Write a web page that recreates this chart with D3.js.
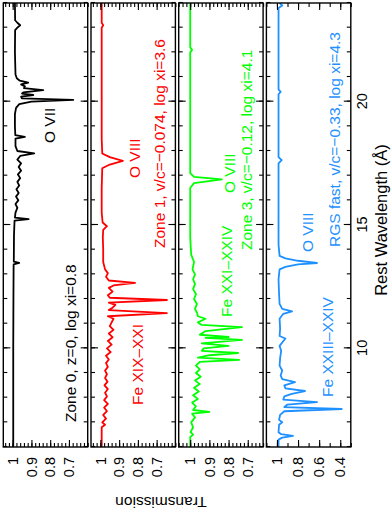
<!DOCTYPE html>
<html>
<head>
<meta charset="utf-8">
<script src="https://cdn.jsdelivr.net/npm/d3@7"></script>
<style>
  body { margin: 0; background: #fff; }
  svg { display: block; }
  text { font-family: "Liberation Sans", Arial, Helvetica, sans-serif; }
</style>
</head>
<body>
<svg id="chart"></svg>
<script>
// wavelength axis (Angstrom)
const waveDomain = [6, 24];
const waveMajor = [10, 15, 20];
const waveMinor = d3.range(6, 25, 1);

// transmission spectra, [wavelength, transmission]
const zone0Spec = [[6.0,0.997],[8.0,0.997],[10.0,0.997],[12.0,0.996],[13.4,0.995],[13.46,0.965],[13.52,0.994],[14.6,0.993],[15.18,0.99],[15.24,0.915],[15.3,0.988],[15.5,0.985],[15.7,0.975],[15.85,0.985],[16.0,0.97],[16.15,0.982],[16.3,0.968],[16.45,0.98],[16.6,0.965],[16.75,0.975],[16.9,0.96],[17.05,0.972],[17.2,0.955],[17.35,0.968],[17.5,0.955],[17.65,0.975],[17.8,0.96],[17.9,0.885],[18.0,0.975],[18.2,0.985],[18.5,0.985],[18.57,0.935],[18.64,0.986],[19.0,0.988],[19.5,0.988],[19.75,0.982],[19.9,0.965],[20.0,0.9],[20.07,0.677],[20.13,0.95],[20.2,0.955],[20.27,0.89],[20.33,0.95],[20.38,0.943],[20.47,0.837],[20.55,0.94],[20.62,0.935],[20.7,0.955],[20.77,0.917],[20.85,0.962],[20.95,0.978],[21.1,0.985],[22.0,0.988],[22.9,0.987],[23.0,0.975],[23.1,0.96],[23.2,0.975],[23.3,0.987],[24.0,0.988]];
const zone1Spec = [[6.0,0.993],[6.8,0.993],[6.9,0.975],[7.0,0.99],[7.15,0.97],[7.3,0.985],[7.45,0.965],[7.6,0.98],[7.75,0.96],[7.9,0.98],[8.05,0.965],[8.2,0.975],[8.35,0.96],[8.5,0.978],[8.65,0.962],[8.8,0.975],[8.95,0.965],[9.1,0.975],[9.25,0.96],[9.4,0.97],[9.55,0.955],[9.7,0.97],[9.85,0.945],[10.0,0.965],[10.15,0.94],[10.3,0.96],[10.45,0.935],[10.6,0.955],[10.75,0.93],[10.9,0.95],[11.05,0.94],[11.2,0.93],[11.3,0.96],[11.43,0.645],[11.55,0.955],[11.65,0.935],[11.76,0.92],[11.85,0.955],[11.96,0.645],[12.05,0.95],[12.15,0.96],[12.3,0.935],[12.45,0.955],[12.55,0.93],[12.65,0.815],[12.75,0.955],[12.9,0.97],[13.05,0.96],[13.2,0.975],[13.5,0.985],[14.0,0.985],[14.5,0.987],[14.8,0.985],[14.95,0.965],[15.1,0.988],[15.5,0.993],[16.5,0.993],[17.3,0.99],[17.45,0.95],[17.6,0.88],[17.75,0.95],[17.9,0.99],[18.5,0.993],[23.0,0.993],[23.1,0.985],[23.2,0.993],[24.0,0.993]];
const zone3Spec = [[6.0,1.0],[6.4,1.0],[6.5,0.985],[6.6,0.998],[6.8,0.985],[7.0,0.995],[7.2,0.975],[7.35,0.99],[7.42,0.9],[7.5,0.985],[7.65,0.97],[7.8,0.99],[7.95,0.96],[8.1,0.985],[8.25,0.955],[8.4,0.98],[8.55,0.95],[8.7,0.975],[8.85,0.945],[9.0,0.97],[9.15,0.95],[9.3,0.97],[9.45,0.95],[9.53,0.745],[9.62,0.96],[9.72,0.9],[9.81,0.75],[9.9,0.94],[10.0,0.93],[10.1,0.8],[10.2,0.94],[10.34,0.73],[10.42,0.92],[10.46,0.8],[10.55,0.95],[10.7,0.92],[10.86,0.73],[10.95,0.94],[11.05,0.96],[11.2,0.92],[11.3,0.96],[11.45,0.965],[11.6,0.975],[11.8,0.965],[12.0,0.98],[12.2,0.97],[12.4,0.985],[12.6,0.975],[12.8,0.985],[13.0,0.975],[13.2,0.988],[13.5,0.98],[13.8,0.995],[14.5,1.0],[16.5,1.0],[16.7,0.98],[16.85,0.835],[16.95,0.98],[17.1,1.0],[22.0,1.0],[22.1,0.99],[22.2,1.0],[24.0,1.0]];
const rgsSpec = [[6.0,0.985],[6.3,0.985],[6.38,0.95],[6.45,0.848],[6.52,0.96],[6.6,0.985],[6.9,0.98],[7.0,0.95],[7.1,0.98],[7.3,0.97],[7.45,0.93],[7.54,0.386],[7.62,0.93],[7.72,0.9],[7.82,0.62],[7.92,0.94],[8.05,0.93],[8.15,0.86],[8.27,0.734],[8.38,0.92],[8.5,0.93],[8.63,0.829],[8.75,0.95],[8.9,0.965],[9.1,0.95],[9.3,0.975],[9.6,0.97],[9.9,0.96],[10.1,0.975],[10.4,0.92],[10.5,0.975],[10.8,0.97],[11.2,0.975],[11.4,0.94],[11.5,0.857],[11.6,0.95],[11.8,0.975],[12.2,0.98],[12.8,0.985],[13.2,0.975],[13.3,0.92],[13.4,0.8],[13.46,0.62],[13.55,0.8],[13.65,0.92],[13.75,0.975],[14.2,0.985],[17.5,0.985],[17.63,0.955],[17.75,0.985],[20.3,0.985],[20.4,0.965],[20.5,0.985],[23.8,0.985],[23.9,0.95],[24.0,0.975]];

// transmission ticks
const transMajor = [1, 0.9, 0.8, 0.7];
const transMinor = d3.range(0.6, 1.06, 0.02);
const rgsMajor = [1, 0.8, 0.6, 0.4];
const rgsMinor = d3.range(0.3, 1.11, 0.1);

const panels = [
  {spec: zone0Spec, color: "#000000", domain: [0.6, 1.05], major: transMajor, minor: transMinor,
   notes: [{t: "Zone 0, z=0, log xi=0.8", x: 102, y: 76}, {t: "O VII", x: 381, y: 55}]},
  {spec: zone1Spec, color: "#ff0000", domain: [0.6, 1.05], major: transMajor, minor: transMinor,
   notes: [{t: "Zone 1, v/c=\u22120.074, log xi=3.6", x: 276, y: 165}, {t: "O VIII", x: 346, y: 140}, {t: "Fe XIX\u2013XXI", x: 119, y: 143}]},
  {spec: zone3Spec, color: "#00ff00", domain: [0.62, 1.06], major: transMajor, minor: transMinor,
   notes: [{t: "Zone 3, v/c=\u22120.12, log xi=4.1", x: 274, y: 252}, {t: "O VIII", x: 331, y: 235}, {t: "Fe XXI\u2013XXIV", x: 207, y: 232}]},
  {spec: rgsSpec, color: "#1e90ff", domain: [0.3, 1.1], major: rgsMajor, minor: rgsMinor,
   notes: [{t: "RGS fast, v/c=\u22120.33, log xi=4.3", x: 277, y: 340}, {t: "O VIII", x: 272, y: 313}, {t: "Fe XXIII\u2013XXIV", x: 127, y: 333}]}
];

const W = 392, H = 524;
const svg = d3.select("#chart").attr("width", W).attr("height", H);
// the figure is laid out landscape and turned a quarter turn
const g = svg.append("g").attr("transform", `translate(0,${H}) rotate(-90)`);

const x = d3.scaleLinear().domain(waveDomain).range([77, 521]);
const panelH = 84.4, gap = 3.3, top0 = 3.3;

function styleAxis(sel) {
  sel.select(".domain").remove();
  sel.selectAll(".tick line").attr("stroke", "#000").attr("stroke-width", 1.1);
  sel.selectAll(".tick text").attr("fill", "#000").style("font-size", "14.5px")
    .style("font-family", '"Liberation Sans", Arial, sans-serif');
}

panels.forEach((p, i) => {
  const y0 = top0 + i * (panelH + gap), y1 = y0 + panelH;
  const y = d3.scaleLinear().domain(p.domain).range([y1, y0]);
  const pg = g.append("g");

  pg.append("clipPath").attr("id", "clip" + i)
    .append("rect").attr("x", x(6)).attr("y", y0).attr("width", x(24) - x(6)).attr("height", panelH);

  const line = d3.line().x(d => x(d[0])).y(d => y(d[1]));
  pg.append("path").datum(p.spec)
    .attr("clip-path", `url(#clip${i})`)
    .attr("fill", "none").attr("stroke", p.color).attr("stroke-width", 1.8)
    .attr("stroke-linejoin", "round").attr("d", line);

  // transmission axes (left labelled, right mirrored)
  pg.append("g").attr("transform", `translate(${x(6)},0)`)
    .call(d3.axisLeft(y).tickValues(p.major).tickSize(-7).tickPadding(10).tickFormat(d3.format("~g"))).call(styleAxis);
  pg.append("g").attr("transform", `translate(${x(6)},0)`)
    .call(d3.axisLeft(y).tickValues(p.minor.filter(v => v >= p.domain[0] && v <= p.domain[1])).tickSize(-4).tickFormat("")).call(styleAxis);
  pg.append("g").attr("transform", `translate(${x(24)},0)`)
    .call(d3.axisRight(y).tickValues(p.major).tickSize(-7).tickFormat("")).call(styleAxis);
  pg.append("g").attr("transform", `translate(${x(24)},0)`)
    .call(d3.axisRight(y).tickValues(p.minor.filter(v => v >= p.domain[0] && v <= p.domain[1])).tickSize(-4).tickFormat("")).call(styleAxis);

  // wavelength ticks on both edges of each panel
  pg.append("g").attr("transform", `translate(0,${y0})`)
    .call(d3.axisTop(x).tickValues(waveMajor).tickSize(-7).tickFormat("")).call(styleAxis);
  pg.append("g").attr("transform", `translate(0,${y0})`)
    .call(d3.axisTop(x).tickValues(waveMinor).tickSize(-4).tickFormat("")).call(styleAxis);
  pg.append("g").attr("transform", `translate(0,${y1})`)
    .call(d3.axisBottom(x).tickValues(waveMajor).tickSize(-7).tickPadding(6)
      .tickFormat(i === panels.length - 1 ? d3.format("d") : "")).call(styleAxis);
  pg.append("g").attr("transform", `translate(0,${y1})`)
    .call(d3.axisBottom(x).tickValues(waveMinor).tickSize(-4).tickFormat("")).call(styleAxis);

  pg.append("rect").attr("x", x(6)).attr("y", y0).attr("width", x(24) - x(6)).attr("height", panelH)
    .attr("fill", "none").attr("stroke", "#000").attr("stroke-width", 1.4);

  p.notes.forEach(n => {
    pg.append("text").attr("x", n.x).attr("y", n.y).attr("fill", p.color)
      .style("font-size", "15.5px").text(n.t);
  });
});

// axis titles
g.append("text").attr("x", 304).attr("y", 387).attr("text-anchor", "middle")
  .style("font-size", "16.5px").text("Rest Wavelength (\u00c5)");
g.append("text").attr("transform", "translate(27,161) rotate(-90)").attr("text-anchor", "middle")
  .style("font-size", "15.5px").text("Transmission");
</script>
</body>
</html>
